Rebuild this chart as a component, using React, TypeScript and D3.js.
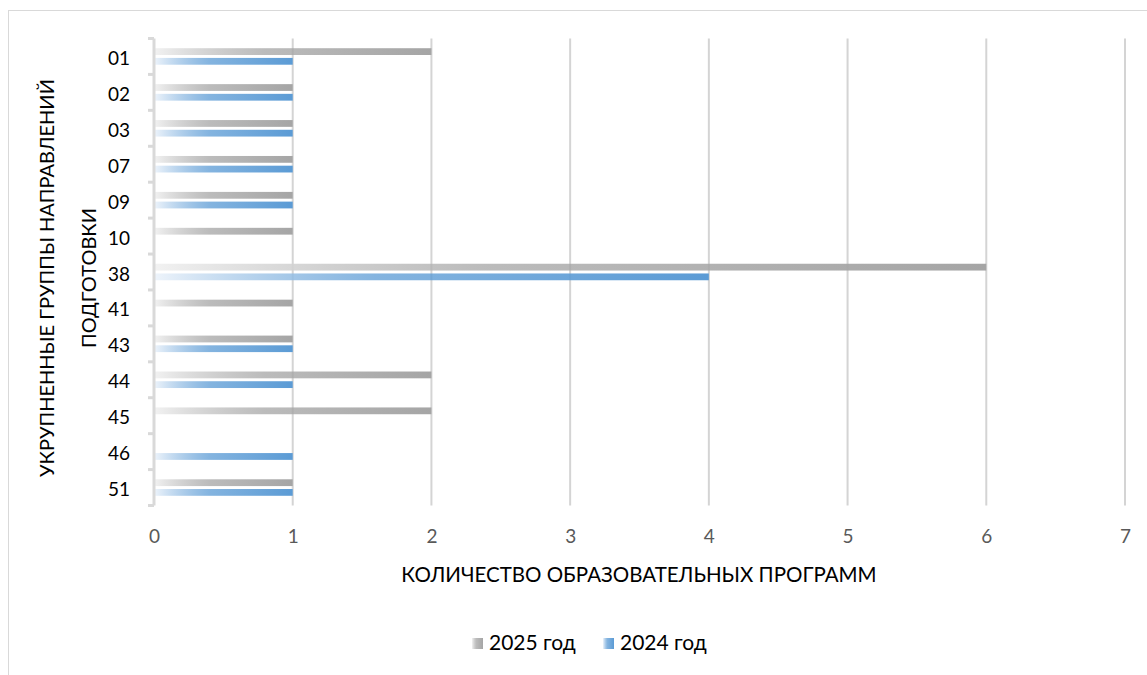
import { useRef, useEffect } from 'react';
import { select, scaleLinear, scaleBand, axisBottom } from 'd3';

const categories = ['01', '02', '03', '07', '09', '10', '38', '41', '43', '44', '45', '46', '51'];
const values2025 = [2, 1, 1, 1, 1, 1, 6, 1, 1, 2, 2, 0, 1];
const values2024 = [1, 1, 1, 1, 1, 0, 4, 0, 1, 1, 0, 1, 1];
const seriesNames = ['2025 год', '2024 год'];
const seriesColors = ['#a5a5a5', '#5b9bd5'];
const seriesLight = ['#f2f2f2', '#eef4fb'];
const xTicks = [0, 1, 2, 3, 4, 5, 6, 7];
const xTitle = 'КОЛИЧЕСТВО ОБРАЗОВАТЕЛЬНЫХ ПРОГРАММ';
const yTitle = ['УКРУПНЕННЫЕ ГРУППЫ НАПРАВЛЕНИЙ', 'ПОДГОТОВКИ'];

const FONT = 'Lato, Carlito, "Noto Sans", sans-serif';

export default function App() {
  const svgRef = useRef<SVGSVGElement>(null);

  useEffect(() => {
    if (!svgRef.current) return;
    const svg = select(svgRef.current);
    svg.selectAll('*').remove();

    const width = 1147;
    const height = 675;
    const margin = { top: 38.5, left: 154, right: 22, bottom: 169.5 };
    const innerW = width - margin.left - margin.right;
    const innerH = height - margin.top - margin.bottom;

    svg.attr('width', width).attr('height', height);

    // Gradients (white -> series colour, per bar)
    const defs = svg.append('defs');
    seriesColors.forEach((c, i) => {
      const grad = defs.append('linearGradient').attr('id', `grad${i}`)
        .attr('x1', '0').attr('y1', '0').attr('x2', '1').attr('y2', '0');
      grad.append('stop').attr('offset', '0%').attr('stop-color', seriesLight[i]);
      grad.append('stop').attr('offset', '40%').attr('stop-color', c).attr('stop-opacity', 0.75);
      grad.append('stop').attr('offset', '100%').attr('stop-color', c);
    });

    // Chart border
    svg.append('rect').attr('x', 8.5).attr('y', 10.5).attr('width', 1300).attr('height', 800)
      .attr('fill', 'white').attr('stroke', '#d9d9d9').attr('stroke-width', 1);

    const g = svg.append('g').attr('transform', `translate(${margin.left},${margin.top})`);

    const x = scaleLinear().domain([0, 7]).range([0, innerW]);
    const y = scaleBand<string>().domain(categories).range([0, innerH]);
    const ySub = scaleBand<string>().domain(seriesNames).range([0, y.bandwidth()])
      .paddingInner(0.3).paddingOuter(1);

    // Gridlines
    g.append('g').selectAll('line').data(xTicks.filter(t => t > 0)).join('line')
      .attr('x1', d => x(d)).attr('x2', d => x(d))
      .attr('y1', 0).attr('y2', innerH)
      .attr('stroke', '#d4d4d4').attr('stroke-width', 2);

    // Bars
    const series = [values2025, values2024];
    series.forEach((vals, si) => {
      g.append('g').selectAll('rect').data(vals.map((v, i) => ({ v, c: categories[i] })).filter(d => d.v > 0))
        .join('rect')
        .attr('x', x(0))
        .attr('y', d => (y(d.c) ?? 0) + (ySub(seriesNames[si]) ?? 0))
        .attr('width', d => x(d.v) - x(0))
        .attr('height', ySub.bandwidth())
        .attr('fill', `url(#grad${si})`);
    });

    // Category axis line with ticks
    g.append('line').attr('x1', 0).attr('x2', 0).attr('y1', 0).attr('y2', innerH)
      .attr('stroke', '#d9d9d9').attr('stroke-width', 3);
    const bounds = categories.map(c => y(c) ?? 0).concat([innerH]);
    g.append('g').selectAll('line').data(bounds).join('line')
      .attr('x1', -6).attr('x2', 0).attr('y1', d => d).attr('y2', d => d)
      .attr('stroke', '#d9d9d9').attr('stroke-width', 3);

    // Category labels
    g.append('g').selectAll('text').data(categories).join('text')
      .attr('x', -24).attr('y', d => (y(d) ?? 0) + y.bandwidth() / 2 + 1)
      .attr('text-anchor', 'end').attr('dominant-baseline', 'central')
      .attr('fill', '#000').style('font-family', FONT).style('font-size', '19px')
      .text(d => d);

    // X axis labels
    const xAxis = g.append('g').attr('transform', `translate(0,${innerH})`)
      .call(axisBottom(x).tickValues(xTicks).tickSize(0).tickPadding(24).tickFormat(d => String(d)) as any);
    xAxis.select('.domain').remove();
    xAxis.selectAll('text').attr('fill', '#595959').style('font-family', FONT).style('font-size', '19px');

    // X title
    svg.append('text').attr('x', 639).attr('y', 582)
      .attr('text-anchor', 'middle').attr('fill', '#000')
      .style('font-family', FONT).style('font-size', '20.5px').text(xTitle);

    // Y title (two lines, rotated)
    const cy = margin.top + innerH / 2 + 6;
    yTitle.forEach((t, i) => {
      svg.append('text')
        .attr('transform', `translate(${54 + i * 42},${cy}) rotate(-90)`)
        .attr('text-anchor', 'middle').attr('fill', '#000')
        .style('font-family', FONT).style('font-size', '20px').text(t);
    });

    // Legend
    const legendItems = [{ x: 472, i: 0 }, { x: 603, i: 1 }];
    legendItems.forEach(({ x: lx, i }) => {
      svg.append('rect').attr('x', lx).attr('y', 638).attr('width', 11).attr('height', 11)
        .attr('fill', `url(#grad${i})`);
      svg.append('text').attr('x', lx + 17).attr('y', 650).attr('fill', '#000')
        .style('font-family', FONT).style('font-size', '21px').text(seriesNames[i]);
    });
  }, []);

  return (
    <svg ref={svgRef} style={{ position: 'absolute', left: 0, top: 0, display: 'block' }} />
  );
}
